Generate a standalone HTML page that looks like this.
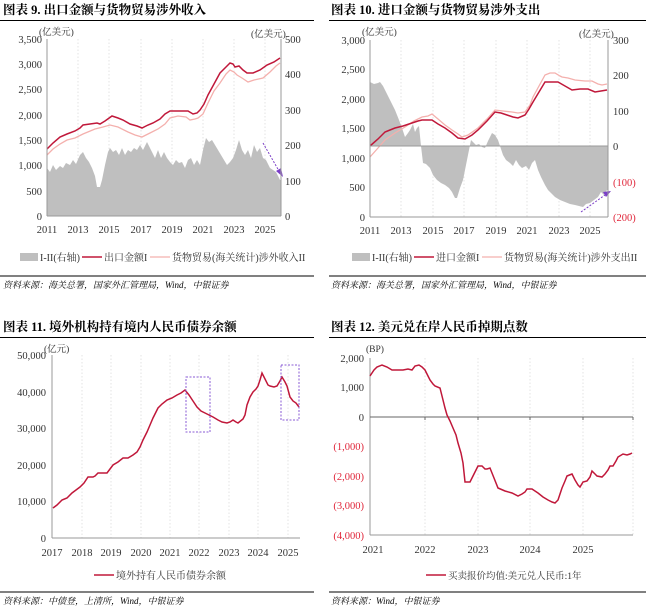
<!DOCTYPE html>
<html><head><meta charset="utf-8"><style>
body{margin:0;background:#fff}
svg{display:block}
text{font-family:"Liberation Serif","Noto Serif CJK SC",serif;fill:#333}
.t{font-weight:bold;font-size:12.5px;fill:#000}
.ax{font-size:10.5px}
.s{font-size:9px;font-style:italic;fill:#000}
.lg{font-size:10px}
.g{stroke:#ddd;stroke-width:.8;stroke-dasharray:1.5,2}
.r{fill:#e0263a}
</style></head><body>
<svg width="649" height="608" viewBox="0 0 649 608">
<!-- ===== Chart 9 ===== -->
<text class="t" x="3" y="14">图表 9.  出口金额与货物贸易涉外收入</text>
<line x1="0" y1="20.5" x2="314" y2="20.5" stroke="#000" stroke-width="1"/>
<g class="g"><line x1="78" y1="39" x2="78" y2="216"/><line x1="109" y1="39" x2="109" y2="216"/><line x1="141" y1="39" x2="141" y2="216"/><line x1="172" y1="39" x2="172" y2="216"/><line x1="203" y1="39" x2="203" y2="216"/><line x1="234" y1="39" x2="234" y2="216"/><line x1="265" y1="39" x2="265" y2="216"/></g>
<polygon fill="#bfbfbf" points="47,216 47,168 50,172 53,165 56,170 60,166 63,168 66,163 70,165 73,160 76,164 80,155 83,152 86,158 89,162 92,168 95,176 97,187 100,187 102,180 105,165 108,152 110,148 113,152 116,150 119,155 122,148 125,155 128,150 131,152 134,148 137,150 140,145 143,150 147,142 149,146 152,152 155,158 158,150 161,158 164,152 167,158 170,162 173,165 176,160 179,163 182,162 185,168 188,160 191,158 194,165 197,160 200,165 203,150 206,138 209,142 212,140 215,145 218,150 221,155 224,160 227,165 230,162 233,158 236,150 239,140 242,150 245,155 248,150 251,158 254,145 257,152 260,148 263,158 266,160 270,168 273,170 276,172 280,180 281,180 281,216"/>
<polyline fill="none" stroke="#f4b0ad" stroke-width="1.3" points="47,155 53,149 60,144 67,140 75,138 83,134 95,129 103,127 110,125 118,127 128,132 135,135 142,137 150,133 158,129 165,124 170,118 178,116 186,117 190,120 195,119 198,118 203,114 208,103 214,91 220,83 226,74 230,70 234,72 237,75 242,78 248,82 254,80 263,78 270,72 276,66 280,63"/>
<polyline fill="none" stroke="#c0183a" stroke-width="1.5" points="47,149 53,143 60,137 67,134 75,131 80,128 83,125 90,124 97,123 100,124 105,121 112,116 118,118 123,120 130,124 137,126 142,128 148,125 153,123 160,119 165,114 170,111 178,111 188,111 193,114 197,113 200,110 204,104 208,95 214,84 220,73 226,67 230,63 233,64 235,67 239,66 243,70 247,73 253,73 260,70 267,65 274,62 280,58"/>
<line x1="263" y1="143" x2="279" y2="171" stroke="#7b3fc7" stroke-width="1" stroke-dasharray="2,1.5"/>
<polygon points="283,177 276,171 281,168" fill="#7b3fc7"/>
<line x1="47" y1="39" x2="47" y2="216" stroke="#999"/>
<line x1="281" y1="39" x2="281" y2="216" stroke="#999"/>
<line x1="47" y1="216" x2="281" y2="216" stroke="#999"/>
<g class="ax" text-anchor="end"><text x="42" y="43">3,500</text><text x="42" y="68">3,000</text><text x="42" y="93">2,500</text><text x="42" y="119">2,000</text><text x="42" y="144">1,500</text><text x="42" y="169">1,000</text><text x="42" y="195">500</text><text x="42" y="220">0</text></g>
<g class="ax"><text x="285" y="43">500</text><text x="285" y="78">400</text><text x="285" y="114">300</text><text x="285" y="149">200</text><text x="285" y="185">100</text><text x="285" y="220">0</text></g>
<text class="ax" x="39" y="35" style="font-size:9.5px">(亿美元)</text>
<text class="ax" x="251" y="37" style="font-size:9.5px">(亿美元)</text>
<g class="ax" text-anchor="middle"><text x="47" y="233">2011</text><text x="78" y="233">2013</text><text x="109" y="233">2015</text><text x="141" y="233">2017</text><text x="172" y="233">2019</text><text x="203" y="233">2021</text><text x="234" y="233">2023</text><text x="265" y="233">2025</text></g>
<rect x="20" y="253" width="18" height="8" fill="#bfbfbf"/><text class="lg" x="40" y="261">I-II(右轴)</text>
<line x1="82" y1="257" x2="102" y2="257" stroke="#c0183a" stroke-width="1.5"/><text class="lg" x="104" y="261">出口金额I</text>
<line x1="150" y1="257" x2="170" y2="257" stroke="#f4b0ad" stroke-width="1.3"/><text class="lg" x="172" y="261">货物贸易(海关统计)涉外收入II</text>
<line x1="0" y1="276" x2="314" y2="276" stroke="#000" stroke-width="1"/>
<text class="s" x="3" y="288">资料来源：海关总署，国家外汇管理局，Wind，中银证券</text>

<!-- ===== Chart 10 ===== -->
<text class="t" x="331" y="14">图表 10.  进口金额与货物贸易涉外支出</text>
<line x1="329" y1="20.5" x2="646" y2="20.5" stroke="#000" stroke-width="1"/>
<g class="g"><line x1="401" y1="40" x2="401" y2="217"/><line x1="433" y1="40" x2="433" y2="217"/><line x1="464" y1="40" x2="464" y2="217"/><line x1="496" y1="40" x2="496" y2="217"/><line x1="527" y1="40" x2="527" y2="217"/><line x1="559" y1="40" x2="559" y2="217"/><line x1="590" y1="40" x2="590" y2="217"/></g>
<polygon fill="#bfbfbf" points="370,146 370,82 374,84 378,83 380,82 383,86 385,90 390,100 395,110 399,120 402,128 405,137 408,133 410,130 413,124 415,132 417,128 419,126 421,146 423,163 426,164 430,168 433,175 437,180 441,183 445,185 449,188 452,192 455,198 457,198 460,188 463,180 466,165 469,150 471,140 473,142 476,145 479,144 482,147 485,148 488,141 492,133 495,135 498,140 500,146 503,155 506,160 510,163 513,166 516,160 519,165 522,168 526,166 529,170 532,163 535,160 538,170 541,177 545,185 548,190 551,193 555,197 560,200 565,202 570,204 575,205 579,206 583,207 586,204 590,203 594,200 598,197 601,192 604,195 607,190 608,190 608,146"/>
<polyline fill="none" stroke="#f4b0ad" stroke-width="1.3" points="370,157 378,148 385,140 395,133 405,127 414,121 422,117 428,116 432,114 438,119 445,125 452,130 458,134 462,137 468,135 478,128 487,119 495,110 503,111 512,112 518,113 525,112 530,105 533,97 539,86 545,75 550,73 555,73 560,76 562,77 568,78 575,80 585,81 592,81 598,84 602,85 607,84"/>
<polyline fill="none" stroke="#c0183a" stroke-width="1.5" points="370,146 378,139 385,132 390,130 395,128 403,126 412,123 418,121 422,120 432,120 438,124 445,128 452,133 458,138 465,139 472,135 478,130 487,121 495,112 501,113 507,115 513,117 518,118 525,115 529,109 533,102 539,92 545,82 552,82 558,82 565,86 572,90 580,89 588,89 595,92 601,91 607,90"/>
<line x1="581" y1="212" x2="605" y2="195" stroke="#7b3fc7" stroke-width="1" stroke-dasharray="2,1.5"/>
<polygon points="611,191 603,192 606,197" fill="#7b3fc7"/>
<line x1="370" y1="146" x2="608" y2="146" stroke="#999"/>
<line x1="370" y1="40" x2="370" y2="217" stroke="#999"/>
<line x1="608" y1="40" x2="608" y2="217" stroke="#999"/>
<line x1="370" y1="217" x2="608" y2="217" stroke="#999"/>
<g class="ax" text-anchor="end"><text x="365" y="44">3,000</text><text x="365" y="73">2,500</text><text x="365" y="103">2,000</text><text x="365" y="132">1,500</text><text x="365" y="162">1,000</text><text x="365" y="191">500</text><text x="365" y="221">0</text></g>
<g class="ax"><text x="613" y="44">300</text><text x="613" y="79">200</text><text x="613" y="115">100</text><text x="613" y="150">0</text><text class="r" x="613" y="186">(100)</text><text class="r" x="613" y="221">(200)</text></g>
<text class="ax" x="362" y="35" style="font-size:9.5px">(亿美元)</text>
<text class="ax" x="579" y="37" style="font-size:9.5px">(亿美元)</text>
<g class="ax" text-anchor="middle"><text x="370" y="234">2011</text><text x="401" y="234">2013</text><text x="433" y="234">2015</text><text x="464" y="234">2017</text><text x="496" y="234">2019</text><text x="527" y="234">2021</text><text x="559" y="234">2023</text><text x="590" y="234">2025</text></g>
<rect x="352" y="253" width="18" height="8" fill="#bfbfbf"/><text class="lg" x="372" y="261">I-II(右轴)</text>
<line x1="414" y1="257" x2="434" y2="257" stroke="#c0183a" stroke-width="1.5"/><text class="lg" x="436" y="261">进口金额I</text>
<line x1="482" y1="257" x2="502" y2="257" stroke="#f4b0ad" stroke-width="1.3"/><text class="lg" x="504" y="261">货物贸易(海关统计)涉外支出II</text>
<line x1="329" y1="276" x2="646" y2="276" stroke="#000" stroke-width="1"/>
<text class="s" x="331" y="288">资料来源：海关总署，国家外汇管理局，Wind，中银证券</text>

<!-- ===== Chart 11 ===== -->
<text class="t" x="3" y="331">图表 11.  境外机构持有境内人民币债券余额</text>
<line x1="0" y1="337.5" x2="314" y2="337.5" stroke="#000" stroke-width="1"/>
<g class="g"><line x1="82" y1="355" x2="82" y2="538"/><line x1="111" y1="355" x2="111" y2="538"/><line x1="141" y1="355" x2="141" y2="538"/><line x1="170" y1="355" x2="170" y2="538"/><line x1="199" y1="355" x2="199" y2="538"/><line x1="229" y1="355" x2="229" y2="538"/><line x1="258" y1="355" x2="258" y2="538"/><line x1="288" y1="355" x2="288" y2="538"/></g>
<polyline fill="none" stroke="#c0183a" stroke-width="1.5" points="53,508 57,505 62,500 67,498 72,493 76,490 80,487 84,483 88,477 93,477 95,476 98,473 103,473 107,473 110,469 113,465 118,462 123,458 128,458 133,455 137,452 140,447 143,440 147,432 150,425 153,418 156,412 158,408 162,404 167,400 172,398 177,395 181,393 185,390 189,395 193,401 197,407 201,411 205,413 209,415 213,417 218,420 222,422 227,423 230,422 233,420 236,422 238,423 243,419 245,415 247,405 250,397 253,392 256,389 258,386 260,380 262,373 265,379 268,385 270,386 274,387 277,386 280,381 282,377 285,382 287,386 290,397 293,401 296,403 299,407"/>
<rect x="186" y="377" width="24" height="55" fill="none" stroke="#8a5bd6" stroke-width="1" stroke-dasharray="2,1.5"/>
<rect x="281" y="365" width="18" height="55" fill="none" stroke="#8a5bd6" stroke-width="1" stroke-dasharray="2,1.5"/>
<line x1="52" y1="355" x2="52" y2="538" stroke="#999"/>
<line x1="52" y1="538" x2="300" y2="538" stroke="#999"/>
<g class="ax" text-anchor="end"><text x="46" y="359">50,000</text><text x="46" y="396">40,000</text><text x="46" y="432">30,000</text><text x="46" y="469">20,000</text><text x="46" y="505">10,000</text><text x="46" y="542">0</text></g>
<text class="ax" x="44" y="352" style="font-size:9.5px">(亿元)</text>
<g class="ax" text-anchor="middle"><text x="52" y="556">2017</text><text x="82" y="556">2018</text><text x="111" y="556">2019</text><text x="141" y="556">2020</text><text x="170" y="556">2021</text><text x="199" y="556">2022</text><text x="229" y="556">2023</text><text x="258" y="556">2024</text><text x="288" y="556">2025</text></g>
<line x1="94" y1="575" x2="114" y2="575" stroke="#c0183a" stroke-width="1.5"/><text class="lg" x="116" y="579">境外持有人民币债券余额</text>
<line x1="0" y1="592" x2="314" y2="592" stroke="#000" stroke-width="1"/>
<text class="s" x="3" y="604">资料来源：中债登，上清所，Wind，中银证券</text>

<!-- ===== Chart 12 ===== -->
<text class="t" x="331" y="331">图表 12.  美元兑在岸人民币掉期点数</text>
<line x1="329" y1="337.5" x2="646" y2="337.5" stroke="#000" stroke-width="1"/>
<g class="g"><line x1="425" y1="358" x2="425" y2="535"/><line x1="478" y1="358" x2="478" y2="535"/><line x1="530" y1="358" x2="530" y2="535"/><line x1="583" y1="358" x2="583" y2="535"/><line x1="633" y1="358" x2="633" y2="535"/></g>
<line x1="370" y1="358" x2="370" y2="535" stroke="#999"/>
<line x1="370" y1="535" x2="633" y2="535" stroke="#999"/>
<line x1="370" y1="417" x2="633" y2="417" stroke="#666"/>
<g stroke="#666"><line x1="425" y1="417" x2="425" y2="420"/><line x1="478" y1="417" x2="478" y2="420"/><line x1="530" y1="417" x2="530" y2="420"/><line x1="583" y1="417" x2="583" y2="420"/><line x1="633" y1="417" x2="633" y2="420"/></g>
<polyline fill="none" stroke="#c0183a" stroke-width="1.5" points="370,376 374,370 377,367 382,365 387,367 392,370 398,370 403,370 408,369 412,370 415,366 419,365 422,367 425,370 428,376 430,380 433,384 435,386 440,388 443,400 445,408 447,415 450,421 453,428 456,435 458,443 461,453 463,463 465,482 468,482 470,482 474,474 478,466 482,466 485,469 487,469 490,468 494,478 498,488 505,491 512,493 518,496 522,494 525,492 527,489 532,489 535,491 538,493 543,497 548,500 552,502 555,503 558,500 560,494 562,488 565,481 567,476 572,474 575,480 578,485 580,487 583,482 587,481 590,477 592,471 595,474 597,476 602,477 605,474 608,470 610,466 613,466 616,461 618,457 623,454 627,455 630,454 632,453"/>
<g class="ax" text-anchor="end"><text x="364" y="362">2,000</text><text x="364" y="391">1,000</text><text x="364" y="421">0</text><text class="r" x="364" y="450">(1,000)</text><text class="r" x="364" y="480">(2,000)</text><text class="r" x="364" y="509">(3,000)</text><text class="r" x="364" y="539">(4,000)</text></g>
<text class="ax" x="366" y="352" style="font-size:9.5px">(BP)</text>
<g class="ax" text-anchor="middle"><text x="373" y="553">2021</text><text x="425" y="553">2022</text><text x="478" y="553">2023</text><text x="530" y="553">2024</text><text x="583" y="553">2025</text></g>
<line x1="426" y1="575" x2="446" y2="575" stroke="#c0183a" stroke-width="1.5"/><text class="lg" x="448" y="579" style="font-size:9.5px">买卖报价均值:美元兑人民币:1年</text>
<line x1="329" y1="592" x2="646" y2="592" stroke="#000" stroke-width="1"/>
<text class="s" x="331" y="604">资料来源：Wind，中银证券</text>
</svg>
</body></html>
